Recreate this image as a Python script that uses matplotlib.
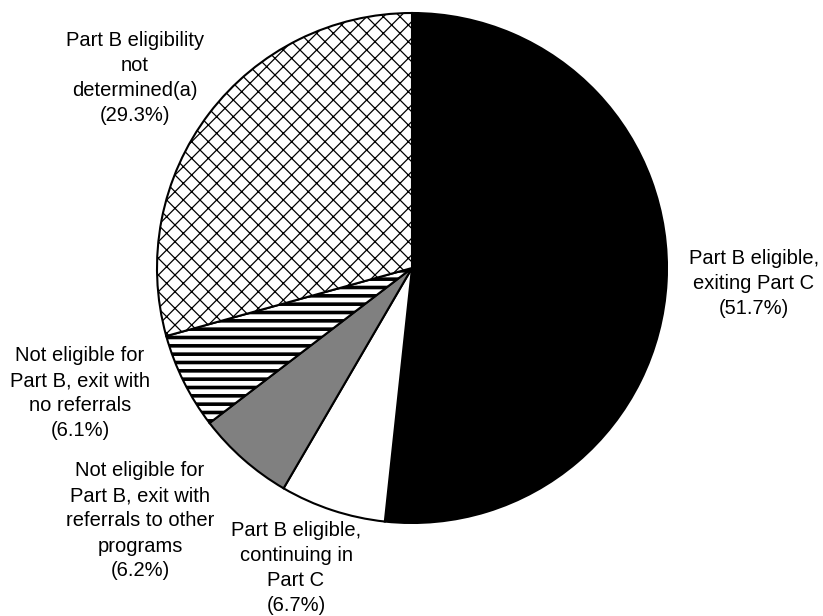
import matplotlib
matplotlib.use("Agg")
import matplotlib.pyplot as plt

plt.rcParams['font.family'] = ['Liberation Sans', 'DejaVu Sans']

# slices, clockwise from 12 o'clock
labels = ['Part B eligible,\nexiting Part C\n(51.7%)',
          'Part B eligible,\ncontinuing in\nPart C\n(6.7%)',
          'Not eligible for\nPart B, exit with\nreferrals to other\nprograms\n(6.2%)',
          'Not eligible for\nPart B, exit with\nno referrals\n(6.1%)',
          'Part B eligibility\nnot\ndetermined(a)\n(29.3%)']
shares = [51.7, 6.7, 6.2, 6.1, 29.3]
colors = ['black', 'white', '#808080', 'white', 'white']
hatches = [None, None, None, '--', 'xx']

# label centres in pixels (x, y from top)
label_px = [(754, 283), (296, 568), (140, 521), (80, 393), (135, 78)]

W, H = 823, 616
cx, cy, R = 412, 268, 255

fig = plt.figure(figsize=(W / 100, H / 100), dpi=100)
ax = fig.add_axes([0, 0, 1, 1])

wedges, _ = ax.pie(shares, colors=colors, startangle=90, counterclock=False,
                   radius=1, wedgeprops=dict(edgecolor='black', linewidth=1.5))
for w, h in zip(wedges, hatches):
    if h:
        w.set_hatch(h)
        if hasattr(w, 'set_hatch_linewidth'):
            w.set_hatch_linewidth(2.6 if h == '--' else 0.9)

for lab, (px, py) in zip(labels, label_px):
    ax.text((px - cx) / R, (cy - py) / R, lab, ha='center', va='center',
            fontsize=14.5, linespacing=1.4)

ax.set_xlim(-cx / R, (W - cx) / R)
ax.set_ylim((cy - H) / R, cy / R)
ax.set_aspect('auto')
ax.axis('off')

fig.savefig('out.png', dpi=100)
